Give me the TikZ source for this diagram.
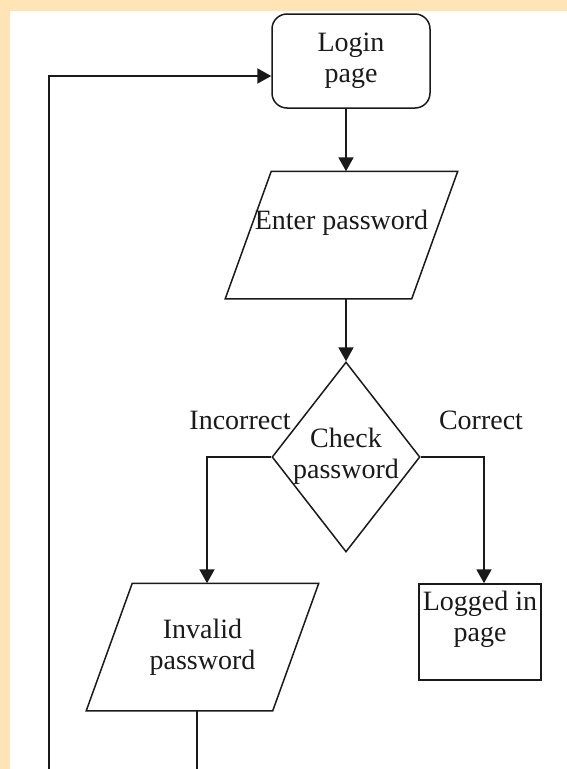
\documentclass[tikz,border=0pt]{standalone}
\usepackage{fontspec}
\setmainfont{Liberation Serif}
\usetikzlibrary{shapes.geometric,arrows.meta}
\definecolor{pagebg}{HTML}{FFE4B5}
\definecolor{ink}{HTML}{1A1A1A}
\begin{document}
\begin{tikzpicture}[x=1pt,y=-1pt,
  font=\fontsize{28}{31}\selectfont, text=ink,
  box/.style={draw=ink, line width=1.5pt, align=center, inner sep=0pt},
  % body of a slanted input/output block; its outline is drawn separately
  iobody/.style={align=center, inner sep=0pt, outer sep=0.75pt,
    minimum width=185pt, minimum height=126pt},
  outline/.style={draw=ink, line width=1.5pt, line join=miter},
  flow/.style={draw=ink, line width=1.9pt, -{Triangle[length=14pt,width=15pt]}},
  link/.style={draw=ink, line width=1.9pt}
]
\useasboundingbox (0,0) rectangle (567,769);
\clip (0,0) rectangle (567,769);
% page background with its tinted margin
\fill[pagebg] (0,0) rectangle (567,769);
\fill[white] (10,11) rectangle (567,769);

% vertical axis of the main column
\coordinate (axis) at (346,0);

% flowchart blocks
\node[box, rounded corners=15pt, minimum width=158pt, minimum height=94pt,
  text depth=6pt] (login) at (351,61) {Login\\page};
\node[iobody] (enter) at (341.5,235) {Enter password\\~};
\node[box, diamond, minimum width=148pt, minimum height=190pt] (check) at (346,457) {};
\node[align=center] (checktext) at (346,456) {Check\\password};
\node[iobody] (invalid) at (202.5,647) {Invalid\\password};
\node[box, minimum width=122pt, minimum height=96pt] (logged) at (480,632) {Logged in\\page\\~};

% slanted outlines of the input/output blocks
\foreach \n in {enter,invalid}
  \draw[outline] ([xshift=23pt]\n.north west) -- ([xshift=23pt]\n.north east)
    -- ([xshift=-23pt]\n.south east) -- ([xshift=-23pt]\n.south west) -- cycle;

% branch labels
\node (incorrect) at (240,420) {Incorrect};
\node (correct) at (481,420) {Correct};

% ends of the return loop below the visible area
\coordinate (invalidexit) at (197,780);
\coordinate (loopstart) at (49,780);

% connectors
\draw[flow] (login.south -| axis) -- (enter.north -| axis);
\draw[flow] (enter.south -| axis) -- (check.north);
\draw[flow] (check.west) -| ([xshift=4.5pt]invalid.north);
\draw[flow] (check.east) -| ([xshift=4pt]logged.north);
\draw[link] ([xshift=-5.5pt]invalid.south) -- (invalidexit);
\draw[flow] (loopstart) |- ([yshift=-15pt]login.west);
\end{tikzpicture}
\end{document}
